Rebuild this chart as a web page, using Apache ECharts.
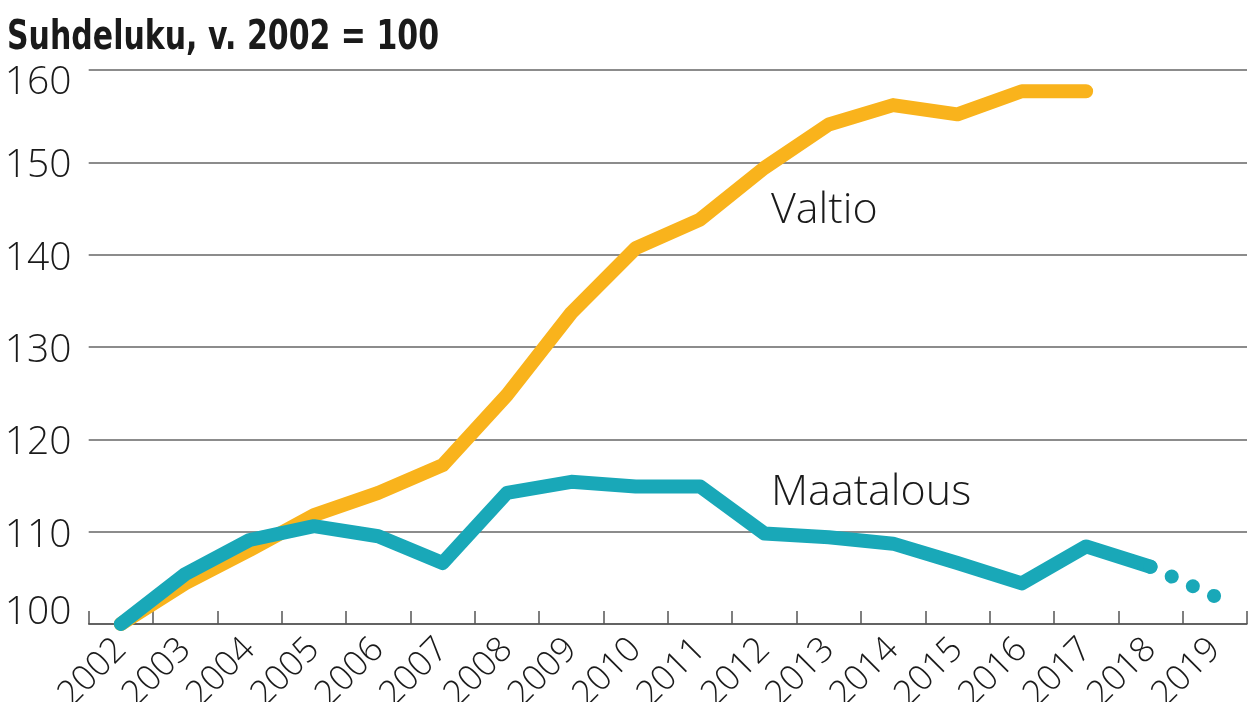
<!DOCTYPE html>
<html>
<head>
<meta charset="utf-8">
<script src="https://cdn.jsdelivr.net/npm/echarts@6/dist/echarts.min.js"></script>
<style>
html,body{margin:0;padding:0;background:#fff;}
#chart{width:1248px;height:702px;}
</style>
</head>
<body>
<div id="chart"></div>
<script>
const years = ['2002','2003','2004','2005','2006','2007','2008','2009','2010','2011','2012','2013','2014','2015','2016','2017','2018','2019'];
const valtio = [100, 104.4, 108.0, 111.8, 114.2, 117.2, 124.8, 133.7, 140.7, 143.8, 149.4, 154.1, 156.2, 155.2, 157.7, 157.7, null, null];
const maatalous = [100, 105.4, 109.1, 110.6, 109.5, 106.6, 114.2, 115.4, 114.9, 114.9, 109.8, 109.4, 108.7, 106.6, 104.4, 108.4, 106.2, null];
const maatalousEnnuste = [null, null, null, null, null, null, null, null, null, null, null, null, null, null, null, null, 106.2, 103.0];
const yTicks = [100, 110, 120, 130, 140, 150, 160];
const titleText = 'Suhdeluku, v. 2002 = 100';

const ORANGE = '#F9B31C';
const TEAL = '#19A8B8';

const chart = echarts.init(document.getElementById('chart'), null, {renderer: 'canvas'});
chart.setOption({
  animation: false,
  backgroundColor: '#fff',
  grid: {left: 88.7, right: 1, top: 70, bottom: 78, containLabel: false, outerBoundsMode: 'none'},
  xAxis: {
    type: 'category',
    data: years,
    boundaryGap: true,
    axisLine: {show: true, lineStyle: {color: '#555', width: 1.5}},
    axisTick: {show: true, inside: true, length: 13, lineStyle: {color: '#555', width: 1.5}},
    axisLabel: {
      rotate: 45, margin: 20, interval: 0, hideOverlap: false,
      fontFamily: 'Open Sans', fontWeight: 300, fontSize: 35, color: '#1a1a1a'
    },
    splitLine: {show: false}
  },
  yAxis: {
    type: 'value',
    min: yTicks[0], max: yTicks[yTicks.length - 1], interval: 10,
    axisLine: {show: false},
    axisTick: {show: false},
    splitLine: {show: true, lineStyle: {color: '#666', width: 1.5}},
    axisLabel: {
      align: 'left', margin: 84,
      formatter: function (v) {
        if (v === 160) return '{t|' + v + '}';
        if (v === 100) return '{b|' + v + '}';
        return '{m|' + v + '}';
      },
      rich: {
        t: {fontFamily: 'Open Sans', fontWeight: 300, fontSize: 39, color: '#1a1a1a', padding: [26, 0, 0, 0]},
        b: {fontFamily: 'Open Sans', fontWeight: 300, fontSize: 39, color: '#1a1a1a', padding: [0, 0, 22, 0]},
        m: {fontFamily: 'Open Sans', fontWeight: 300, fontSize: 39, color: '#1a1a1a', padding: [8, 0, 0, 0]}
      }
    }
  },
  graphic: [
    {type: 'text', x: 7, y: 19, scaleX: 0.75, style: {text: titleText, font: 'bold 40px "DejaVu Sans", sans-serif', fill: '#1a1a1a'}},
    {type: 'text', left: 771, top: 189, style: {text: 'Valtio', font: '300 43px "Open Sans"', fill: '#1a1a1a'}},
    {type: 'text', left: 771, top: 471, style: {text: 'Maatalous', font: '300 43px "Open Sans"', fill: '#1a1a1a'}}
  ],
  series: [
    {
      name: 'Valtio', type: 'line', data: valtio, showSymbol: false, symbol: 'none',
      lineStyle: {color: ORANGE, width: 14, cap: 'round', join: 'round'}, z: 2
    },
    {
      name: 'Maatalous', type: 'line', data: maatalous, showSymbol: false, symbol: 'none',
      lineStyle: {color: TEAL, width: 14, cap: 'round', join: 'round'}, z: 3
    },
    {
      name: 'Maatalous ennuste', type: 'line', data: maatalousEnnuste, showSymbol: false, symbol: 'none',
      lineStyle: {color: TEAL, width: 14, cap: 'round', type: [0.1, 23.2]}, z: 3
    }
  ]
});
</script>
</body>
</html>
